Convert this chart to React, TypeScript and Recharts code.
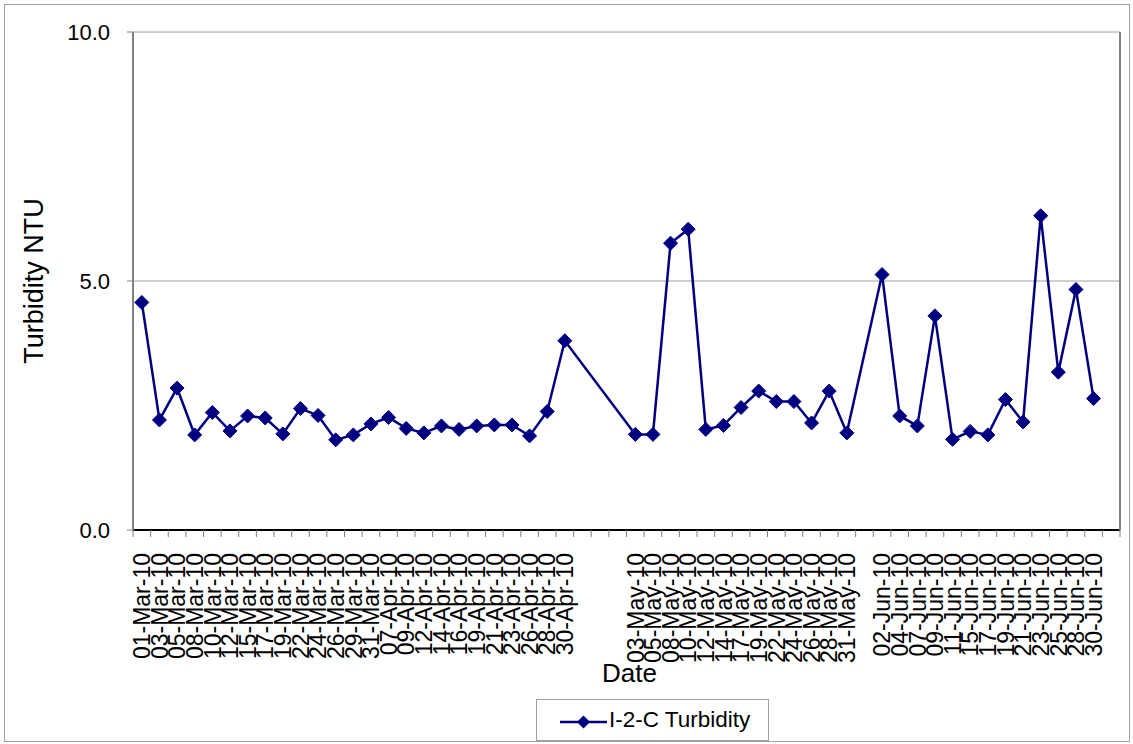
import React from 'react';
import { LineChart, Line, XAxis, YAxis, CartesianGrid, Label } from 'recharts';

const dates: string[] = [
  '01-Mar-10', '03-Mar-10', '05-Mar-10', '08-Mar-10', '10-Mar-10', '12-Mar-10', '15-Mar-10',
  '17-Mar-10', '19-Mar-10', '22-Mar-10', '24-Mar-10', '26-Mar-10', '29-Mar-10', '31-Mar-10',
  '07-Apr-10', '09-Apr-10', '12-Apr-10', '14-Apr-10', '16-Apr-10', '19-Apr-10', '21-Apr-10',
  '23-Apr-10', '26-Apr-10', '28-Apr-10', '30-Apr-10',
  '', '', '',
  '03-May-10', '05-May-10', '08-May-10', '10-May-10', '12-May-10', '14-May-10', '17-May-10',
  '19-May-10', '22-May-10', '24-May-10', '26-May-10', '28-May-10', '31-May-10',
  '',
  '02-Jun-10', '04-Jun-10', '07-Jun-10', '09-Jun-10', '11-Jun-10', '15-Jun-10', '17-Jun-10',
  '19-Jun-10', '21-Jun-10', '23-Jun-10', '25-Jun-10', '28-Jun-10', '30-Jun-10',
  '',
];

const turbidity: (number | null)[] = [
  4.57, 2.21, 2.85, 1.91, 2.36, 1.99, 2.29,
  2.25, 1.93, 2.44, 2.30, 1.81, 1.91, 2.13,
  2.26, 2.04, 1.95, 2.09, 2.02, 2.09, 2.11,
  2.11, 1.89, 2.38, 3.80,
  null, null, null,
  1.92, 1.92, 5.76, 6.04, 2.02, 2.10, 2.46,
  2.79, 2.58, 2.58, 2.15, 2.79, 1.95,
  null,
  5.13, 2.29, 2.09, 4.30, 1.82, 1.98, 1.91,
  2.62, 2.17, 6.31, 3.17, 4.83, 2.64,
  null,
];

const yTicks: number[] = [0, 5, 10];

const seriesName = 'I-2-C Turbidity';

const data = dates.map((d, i) => ({ date: d, value: turbidity[i] }));

const FONT = '"Liberation Sans", Arial, sans-serif';
const NAVY = '#000080';
const PLOT_LEFT = 133;
const PLOT_RIGHT = 1120;
const HALF_BAND = (PLOT_RIGHT - PLOT_LEFT) / dates.length / 2;

const Diamond = (props: any) => {
  const { cx, cy, value } = props;
  if (value === null || value === undefined || cy === null || cy === undefined || isNaN(cy)) {
    return <g />;
  }
  const r = 7;
  return (
    <path
      d={`M${cx},${cy - r}L${cx + r},${cy}L${cx},${cy + r}L${cx - r},${cy}Z`}
      fill={NAVY}
      stroke={NAVY}
      strokeWidth={1}
    />
  );
};

const XTick = (props: any) => {
  const { x, payload, index } = props;
  const label = payload && payload.value ? String(payload.value) : '';
  const isLast = index === dates.length - 1;
  return (
    <g>
      <line x1={x - HALF_BAND} y1={530} x2={x - HALF_BAND} y2={537} stroke="#808080" strokeWidth={1} />
      {isLast && (
        <line x1={x + HALF_BAND} y1={530} x2={x + HALF_BAND} y2={537} stroke="#808080" strokeWidth={1} />
      )}
      {label && (
        <text
          transform={`translate(${x},553) rotate(-90)`}
          textAnchor="end"
          dy="0.36em"
          fontSize={23}
          fontFamily={FONT}
          fill="#000"
        >
          {label}
        </text>
      )}
    </g>
  );
};

export default function App() {
  return (
    <div style={{ position: 'absolute', left: 0, top: 0, width: 1133, height: 744, background: '#fff' }}>
      <svg width={1133} height={744} style={{ position: 'absolute', left: 0, top: 0 }}>
        <rect x={4.5} y={4.5} width={1125} height={737} fill="#fff" stroke="#a0a0a0" strokeWidth={1} />
      </svg>
      <div style={{ position: 'absolute', left: 0, top: 0 }}>
        <LineChart
          width={1133}
          height={744}
          data={data}
          margin={{ top: 32, right: 0, left: 0, bottom: 0 }}
        >
          <CartesianGrid vertical={false} stroke="#a0a0a0" strokeWidth={1} />
          <XAxis
            dataKey="date"
            interval={0}
            height={214}
            padding={{ left: HALF_BAND, right: HALF_BAND }}
            tickLine={false}
            axisLine={{ stroke: '#000', strokeWidth: 2 }}
            tick={<XTick />}
          >
            <Label
              value="Date"
              position="center"
              dx={3}
              dy={36}
              style={{ fontSize: 26, fontFamily: FONT, fill: '#000' }}
            />
          </XAxis>
          <XAxis
            xAxisId="top"
            dataKey="date"
            orientation="top"
            height={0}
            tick={false}
            tickLine={false}
            axisLine={{ stroke: '#808080', strokeWidth: 2 }}
          />
          <YAxis
            domain={[0, 10]}
            ticks={yTicks}
            width={133}
            tickSize={6}
            tickMargin={17}
            tickLine={{ stroke: '#808080' }}
            axisLine={{ stroke: '#808080', strokeWidth: 2 }}
            tickFormatter={(v: number) => v.toFixed(1)}
            tick={{ fontSize: 22, fontFamily: FONT, fill: '#000' }}
          >
            <Label
              value="Turbidity NTU"
              angle={-90}
              position="center"
              dx={-33.5}
              style={{ fontSize: 27, fontFamily: FONT, fill: '#000', textAnchor: 'middle' }}
            />
          </YAxis>
          <YAxis
            yAxisId="right"
            orientation="right"
            width={13}
            tick={false}
            tickLine={false}
            axisLine={{ stroke: '#808080', strokeWidth: 2 }}
          />
          <Line
            type="linear"
            dataKey="value"
            name={seriesName}
            stroke={NAVY}
            strokeWidth={2.5}
            connectNulls
            dot={<Diamond />}
            activeDot={false}
            isAnimationActive={false}
          />
        </LineChart>
      </div>
      <div
        style={{
          position: 'absolute',
          left: 536,
          top: 699,
          width: 233,
          height: 42,
          border: '1px solid #a0a0a0',
          boxSizing: 'border-box',
          background: '#fff',
          display: 'flex',
          alignItems: 'center',
          fontFamily: FONT,
          fontSize: 22.5,
          color: '#000',
        }}
      >
        <svg width={72} height={40} style={{ flex: 'none' }}>
          <line x1={23} y1={22} x2={70} y2={22} stroke={NAVY} strokeWidth={2.5} />
          <path d="M46.5,15.5L53,22L46.5,28.5L40,22Z" fill={NAVY} />
        </svg>
        <span>{seriesName}</span>
      </div>
    </div>
  );
}
